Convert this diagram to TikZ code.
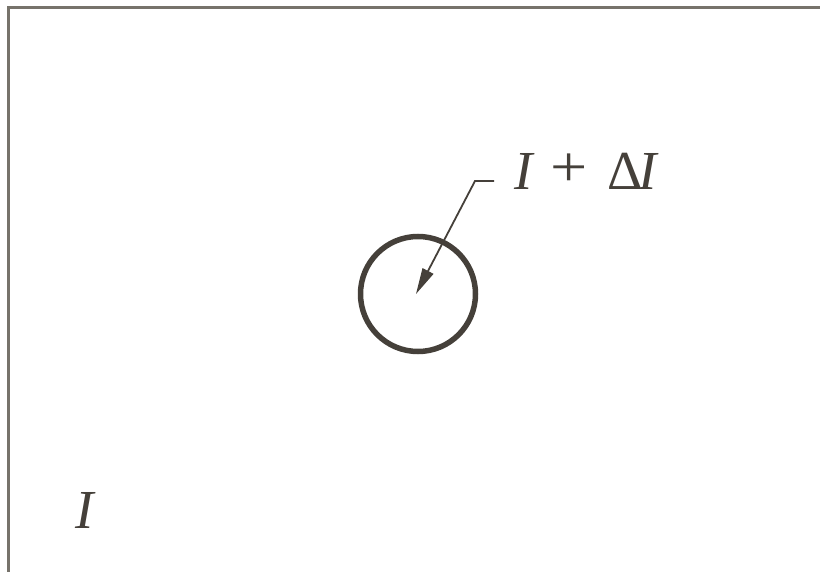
\documentclass[tikz,border=0pt]{standalone}
\usepackage{fontspec}
\usepackage{graphicx}
\setmainfont{Liberation Serif}
\usetikzlibrary{arrows.meta}
\definecolor{framegray}{HTML}{77736B}
\definecolor{ink}{HTML}{45403A}
\newcommand{\bigplus}{\raisebox{3pt}{\scalebox{1.2}[1.05]{+}}}
\begin{document}
\begin{tikzpicture}[x=1pt,y=-1pt,
  lbl/.style={inner sep=0pt,anchor=base west,text=ink,font=\fontsize{55}{62}\selectfont},
  ring/.style={draw=ink,line width=5.5pt,circle,minimum size=115pt,inner sep=0pt},
  pointer/.style={draw=ink,line width=1.8pt,-{Triangle[length=26pt,width=12pt]}}]
\useasboundingbox (0,0) rectangle (820,572);
\draw[framegray,line width=3pt] (8,575) -- (8,8) -- (825,8);
\node[ring] (c) at (418,294) {};
\coordinate (ctr) at (416,294);
\node[lbl] (t) at (514,190) {\textit{I}\hspace{15.7pt}\bigplus\hspace{19.5pt}Δ\kern-3.5pt\textit{I}};
\coordinate (k) at (494,181);
\coordinate (j) at (475,181);
\draw[pointer] (k) -- (j) -- (ctr);
\node[lbl] (i) at (75,528) {\textit{I}};
\end{tikzpicture}
\end{document}
